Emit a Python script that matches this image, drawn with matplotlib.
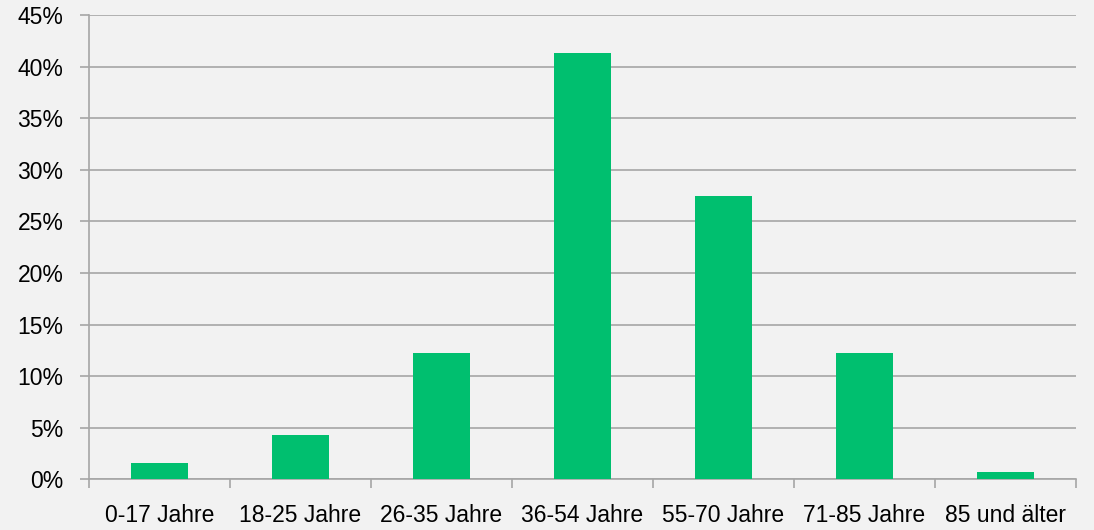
import matplotlib
matplotlib.use('Agg')
import matplotlib.pyplot as plt
from matplotlib.ticker import FuncFormatter, MultipleLocator

# Daten
kategorien = ['0-17 Jahre', '18-25 Jahre', '26-35 Jahre', '36-54 Jahre',
              '55-70 Jahre', '71-85 Jahre', '85 und älter']
anteile = [1.6, 4.3, 12.3, 41.35, 27.5, 12.25, 0.7]

plt.rcParams['font.family'] = ['Liberation Sans', 'DejaVu Sans']

fig = plt.figure(figsize=(10.94, 5.30), dpi=100, facecolor='#F2F2F2')
ax = fig.add_axes([0.0814, 0.0953, 0.9021, 0.8764])
ax.set_facecolor('#F2F2F2')

x = list(range(len(kategorien)))
ax.bar(x, anteile, width=0.4, color='#00BF6F', zorder=3)

ax.set_xlim(-0.5, len(kategorien) - 0.5)
ax.set_ylim(0, 45)
ax.yaxis.set_major_locator(MultipleLocator(5))
ax.yaxis.set_major_formatter(FuncFormatter(lambda v, p: f'{v:.0f}%'))
ax.grid(axis='y', color='#A6A6A6', linewidth=1.2, zorder=0)

# Trennstriche zwischen den Kategorien, Beschriftung in der Mitte
ax.set_xticks([i - 0.5 for i in range(len(kategorien) + 1)])
ax.set_xticklabels([])
ax.set_xticks(x, minor=True)
ax.set_xticklabels(kategorien, minor=True, fontsize=16.5)
ax.tick_params(axis='x', which='minor', length=0, pad=18)
ax.tick_params(axis='x', which='major', length=6.5, color='#A6A6A6', width=1.2)
ax.tick_params(axis='y', length=6.5, color='#A6A6A6', width=1.2, labelsize=16.5, pad=12)

for s in ['top', 'right']:
    ax.spines[s].set_visible(False)
for s in ['left', 'bottom']:
    ax.spines[s].set_color('#A6A6A6')
    ax.spines[s].set_linewidth(1.2)

fig.savefig('out.png', dpi=100, facecolor='#F2F2F2')
